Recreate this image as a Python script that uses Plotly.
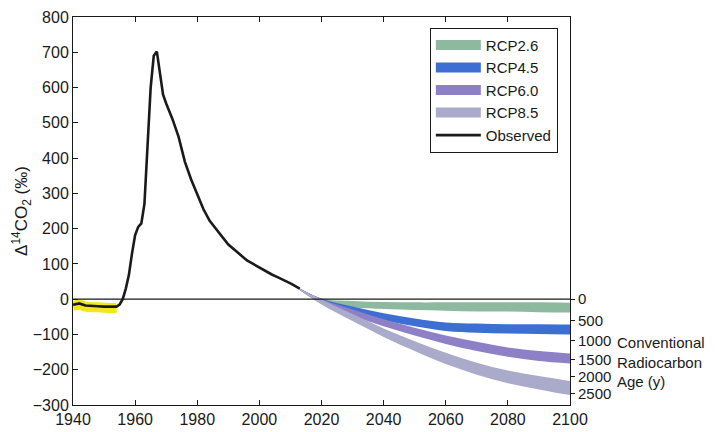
import numpy as np
import plotly.graph_objects as go

# ---------------- data ----------------
obs_years = [1940, 1942, 1944, 1946, 1948, 1950, 1952, 1954, 1955, 1956, 1957, 1958,
             1959, 1960, 1961, 1962, 1963, 1964, 1965, 1966, 1967, 1968, 1969, 1970,
             1972, 1974, 1976, 1978, 1980, 1982, 1984, 1986, 1988, 1990, 1992, 1994,
             1996, 1998, 2000, 2002, 2004, 2006, 2008, 2010, 2013]
obs_values = [-16, -12, -18, -20, -20, -21, -22, -21, -15, 0, 30, 69,
              130, 182, 205, 215, 270, 420, 600, 690, 702, 640, 580, 555,
              511, 460, 390, 340, 300, 255, 222, 200, 180, 155, 140, 125,
              110, 100, 90, 79, 70, 62, 54, 45, 30]

highlight_years = [1940, 1942, 1944, 1946, 1948, 1950, 1952, 1954]
highlight_values = [-19, -16, -21, -23, -23, -24, -25, -24]

scen_years = [2013, 2020, 2030, 2040, 2050, 2060, 2070, 2080, 2090, 2100]
rcp26 = [28, -4, -14, -18, -20, -21, -22, -22, -23, -24]
rcp45 = [28, -5, -30, -50, -66, -78, -82, -84, -85, -86]
rcp60 = [28, -6, -38, -67, -92, -115, -134, -150, -161, -168]
rcp85 = [28, -8, -52, -95, -133, -168, -197, -220, -237, -252]
band_half = [2, 6, 9, 10, 11, 12, 13, 13, 14, 14]
band_half85 = [2, 7, 10, 12, 14, 16, 17, 18, 19, 20]

age_ticks = [0, 500, 1000, 1500, 2000, 2500]
year_ticks = [1940, 1960, 1980, 2000, 2020, 2040, 2060, 2080, 2100]

scenarios = [
    ("RCP2.6", rcp26, band_half, "#8dba9f"),
    ("RCP4.5", rcp45, band_half, "#3d6fd2"),
    ("RCP6.0", rcp60, band_half, "#8e80c6"),
    ("RCP8.5", rcp85, band_half85, "#aaaaca"),
]

fig = go.Figure()

# bands (drawn in order, RCP8.5 last)
for name, vals, half, col in scenarios:
    lo = [v - h for v, h in zip(vals, half)]
    hi = [v + h for v, h in zip(vals, half)]
    fig.add_trace(go.Scatter(x=scen_years, y=lo, mode="lines",
                             line=dict(width=0, shape="spline", color=col),
                             showlegend=False, hoverinfo="skip"))
    fig.add_trace(go.Scatter(x=scen_years, y=hi, mode="lines", fill="tonexty",
                             fillcolor=col, line=dict(width=0, shape="spline", color=col),
                             showlegend=False, hoverinfo="skip"))

# yellow highlight
fig.add_trace(go.Scatter(x=highlight_years, y=highlight_values, mode="lines",
                         line=dict(color="#f3e61c", width=10, shape="spline"),
                         showlegend=False, hoverinfo="skip"))

# observed
fig.add_trace(go.Scatter(x=obs_years, y=obs_values, mode="lines",
                         line=dict(color="#1a1a1a", width=2.6),
                         showlegend=False))

# legend entries
for name, vals, half, col in scenarios:
    fig.add_trace(go.Scatter(x=[None], y=[None], mode="lines", name=name,
                             line=dict(color=col, width=12)))
fig.add_trace(go.Scatter(x=[None], y=[None], mode="lines", name="Observed",
                         line=dict(color="#1a1a1a", width=2.6)))

# invisible trace to activate right axis
age_vals = [1000.0 * (np.exp(-a / 8033.0) - 1.0) for a in age_ticks]
fig.add_trace(go.Scatter(x=[None], y=[None], yaxis="y2", showlegend=False))

fam = "Liberation Sans, Arial, sans-serif"
ink = "#1a1a1a"
font16 = dict(family=fam, size=16, color=ink)
font15 = dict(family=fam, size=15, color=ink)

# page body has an 8px margin, so the figure is sized to fill the rest of the window
fig.update_layout(
    width=709, height=424,
    margin=dict(l=65, r=147, t=9, b=27),
    paper_bgcolor="white", plot_bgcolor="white",
    font=font16,
    showlegend=True,
    legend=dict(x=0.718, y=0.972, xanchor="left", yanchor="top",
                bordercolor=ink, borderwidth=1, bgcolor="white",
                font=font15, itemwidth=45, tracegroupgap=0, traceorder="normal"),
    xaxis=dict(range=[1940, 2100], tickvals=year_ticks,
               ticks="inside", ticklen=5, tickcolor=ink,
               showline=True, linecolor=ink, linewidth=1, mirror="ticks",
               showgrid=False, zeroline=False, tickfont=font16, automargin=False),
    yaxis=dict(range=[-300, 800], dtick=100, ticks="inside", ticklen=5, tickcolor=ink,
               showline=True, linecolor=ink, linewidth=1, mirror=True,
               showgrid=False, zeroline=False, tickfont=font16, automargin=False,
               title=dict(text="Δ<sup>14</sup>CO<sub>2</sub> (‰)",
                          font=dict(family=fam, size=17, color=ink), standoff=0)),
    yaxis2=dict(range=[-300, 800], overlaying="y", side="right",
                tickvals=age_vals, ticktext=[str(a) for a in age_ticks],
                ticks="outside", ticklen=4, tickcolor=ink, automargin=False,
                showline=False, showgrid=False, zeroline=False, tickfont=font15),
)

fig.add_shape(type="line", xref="paper", yref="y", x0=0, x1=1, y0=0, y1=0,
              line=dict(color=ink, width=1.2), layer="above")

fig.add_annotation(xref="paper", yref="paper", x=1.09, y=0.111, xanchor="left",
                   yanchor="middle", align="left", showarrow=False,
                   text="Conventional<br>Radiocarbon<br>Age (y)",
                   font=dict(family=fam, size=15, color=ink))

fig.write_html("out.html")
